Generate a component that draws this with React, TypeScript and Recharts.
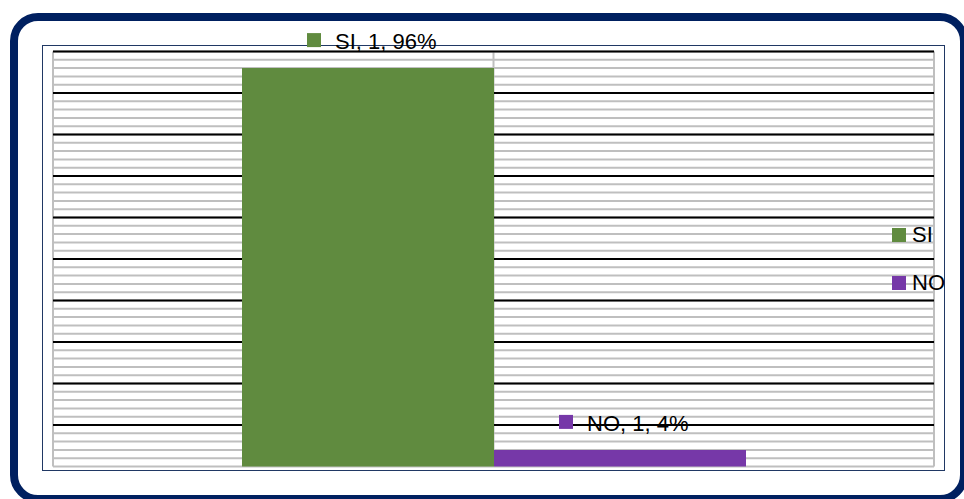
import { Bar, BarChart, CartesianGrid, Legend, XAxis, YAxis } from "recharts";

const categories = ["1"];
const seriesNames = ["SI", "NO"];
const siValues = [0.96];
const noValues = [0.04];

const majorTicks = [0.1, 0.2, 0.3, 0.4, 0.5, 0.6, 0.7, 0.8, 0.9, 1];
const minorTicks = [
  0, 0.02, 0.04, 0.06, 0.08, 0.1, 0.12, 0.14, 0.16, 0.18, 0.2, 0.22, 0.24, 0.26, 0.28, 0.3,
  0.32, 0.34, 0.36, 0.38, 0.4, 0.42, 0.44, 0.46, 0.48, 0.5, 0.52, 0.54, 0.56, 0.58, 0.6,
  0.62, 0.64, 0.66, 0.68, 0.7, 0.72, 0.74, 0.76, 0.78, 0.8, 0.82, 0.84, 0.86, 0.88, 0.9,
  0.92, 0.94, 0.96, 0.98, 1,
];

const data = categories.map((cat, i) => ({ cat, SI: siValues[i], NO: noValues[i] }));

const GREEN = "#608B3F";
const PURPLE = "#7638A8";
const FONT = "'Liberation Sans', Arial, sans-serif";

// value -> pixel through the axis scale (recharts 3 may wrap the d3 scale)
function yPos(yAxis: any, offset: any, t: number) {
  const s = yAxis?.scale;
  if (typeof s === "function") return s(t);
  if (s && typeof s.map === "function") return s.map(t);
  if (s && typeof s.apply === "function") return s.apply(t);
  return offset.top + offset.height * (1 - t);
}

function barLabel(name: string, color: string) {
  return (props: any) => {
    const { x, y, width, value, index } = props;
    const cx = Number(x) + Number(width) / 2;
    const top = Number(y);
    return (
      <g>
        <rect x={cx - 61} y={top - 35} width={14} height={14} fill={color} />
        <text x={cx - 33} y={top - 19} fontSize={22} fontFamily={FONT} fill="#000">
          {`${name}, ${categories[index ?? 0]}, ${Math.round(Number(value) * 100)}%`}
        </text>
      </g>
    );
  };
}

function LegendBox(props: any) {
  const items = [...(props.payload || [])].sort(
    (a: any, b: any) => seriesNames.indexOf(a.value) - seriesNames.indexOf(b.value)
  );
  return (
    <div>
      {items.map((it: any) => (
        <div
          key={it.value}
          style={{ display: "flex", alignItems: "center", height: 22, marginBottom: 26 }}
        >
          <span style={{ width: 14, height: 14, background: it.color, display: "inline-block" }} />
          <span style={{ marginLeft: 6, fontSize: 22, lineHeight: "22px", fontFamily: FONT }}>
            {it.value}
          </span>
        </div>
      ))}
    </div>
  );
}

export default function App() {
  return (
    <div
      style={{
        position: "absolute",
        left: 0,
        top: 0,
        width: 964,
        height: 499,
        overflow: "hidden",
        background: "#fff",
      }}
    >
      <div
        style={{
          position: "absolute",
          left: 10,
          top: 13,
          width: 958,
          height: 490,
          boxSizing: "border-box",
          border: "8px solid #002060",
          borderRadius: 28,
        }}
      />
      <div
        style={{
          position: "absolute",
          left: 42,
          top: 45,
          width: 903,
          height: 426,
          boxSizing: "border-box",
          border: "1.5px solid #203864",
        }}
      />
      <div style={{ position: "absolute", left: 0, top: 0 }}>
        <BarChart
          width={964}
          height={499}
          data={data}
          margin={{ top: 51.5, left: 53, right: 30, bottom: 32.5 }}
          barCategoryGap={189}
          barGap={0}
        >
          <CartesianGrid
            stroke="#BFBFBF"
            strokeWidth={2}
            fill="#fff"
            horizontalCoordinatesGenerator={({ yAxis, offset }: any) =>
              minorTicks.map((t) => yPos(yAxis, offset, t))
            }
            verticalCoordinatesGenerator={({ offset }: any) => [
              offset.left,
              offset.left + offset.width / 2,
              offset.left + offset.width,
            ]}
          />
          <CartesianGrid
            stroke="#000"
            strokeWidth={2}
            vertical={false}
            horizontalCoordinatesGenerator={({ yAxis, offset }: any) =>
              majorTicks.map((t) => yPos(yAxis, offset, t))
            }
          />
          <XAxis dataKey="cat" hide />
          <YAxis hide domain={[0, 1]} ticks={majorTicks} />
          <Legend
            layout="vertical"
            align="center"
            verticalAlign="middle"
            content={<LegendBox />}
            wrapperStyle={{ position: "absolute", left: 892, top: 224, width: 80 }}
          />
          <Bar dataKey="SI" fill={GREEN} isAnimationActive={false} label={barLabel("SI", GREEN)} />
          <Bar dataKey="NO" fill={PURPLE} isAnimationActive={false} label={barLabel("NO", PURPLE)} />
        </BarChart>
      </div>
    </div>
  );
}
